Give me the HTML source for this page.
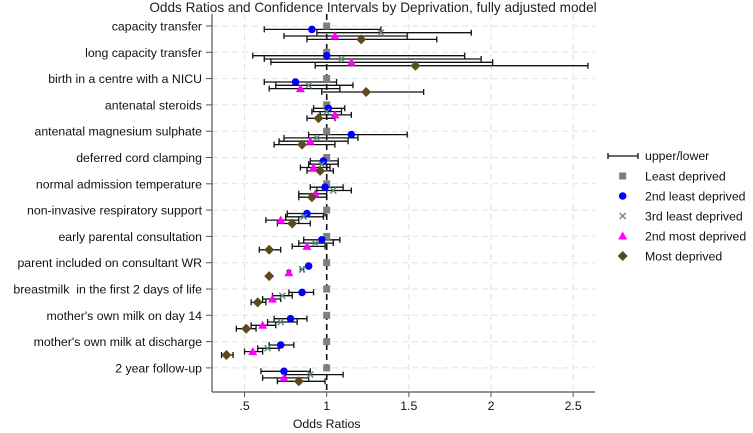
<!DOCTYPE html>
<html><head><meta charset="utf-8"><style>
html,body{margin:0;padding:0;background:#fff;}
svg{display:block;font-family:"Liberation Sans",Arial,sans-serif;}
text{white-space:pre;}
</style></head><body>
<svg id="chart" width="753" height="433" viewBox="0 0 753 433"></svg>
<script>
const categories=["capacity transfer","long capacity transfer","birth in a centre with a NICU","antenatal steroids","antenatal magnesium sulphate","deferred cord clamping","normal admission temperature","non-invasive respiratory support","early parental consultation","parent included on consultant WR","breastmilk  in the first 2 days of life","mother's own milk on day 14","mother's own milk at discharge","2 year follow-up"];
const seriesNames=["Least deprived","2nd least deprived","3rd least deprived","2nd most deprived","Most deprived"];
const leastOR=[1,1,1,1,1,1,1,1,1,1,1,1,1,1];
const second_leastOR=[0.91,1.00,0.81,1.01,1.15,0.98,0.99,0.88,0.97,0.89,0.85,0.78,0.72,0.74];
const second_leastLo=[0.62,0.55,0.62,0.92,0.89,0.90,0.90,0.76,0.86,0.885,0.77,0.68,0.65,0.60];
const second_leastHi=[1.33,1.84,1.06,1.11,1.49,1.07,1.10,0.99,1.08,0.895,0.92,0.88,0.80,0.90];
const third_leastOR=[1.33,1.09,0.89,1.00,0.94,0.97,1.04,0.86,0.93,0.85,0.73,0.72,0.64,0.90];
const third_leastLo=[0.94,0.62,0.69,0.91,0.74,0.89,0.94,0.75,0.83,0.84,0.67,0.64,0.58,0.75];
const third_leastHi=[1.88,1.94,1.16,1.09,1.19,1.07,1.15,0.98,1.04,0.86,0.79,0.82,0.71,1.10];
const second_mostOR=[1.05,1.15,0.84,1.05,0.90,0.92,0.93,0.72,0.88,0.77,0.67,0.61,0.55,0.74];
const second_mostLo=[0.74,0.66,0.65,0.96,0.71,0.84,0.83,0.63,0.79,0.76,0.61,0.54,0.50,0.61];
const second_mostHi=[1.49,2.01,1.08,1.15,1.13,1.02,1.00,0.83,0.99,0.78,0.72,0.69,0.61,0.89];
const mostOR=[1.21,1.54,1.24,0.95,0.85,0.96,0.91,0.79,0.65,0.65,0.58,0.51,0.39,0.83];
const mostLo=[0.88,0.93,0.97,0.88,0.68,0.88,0.83,0.70,0.59,0.645,0.54,0.45,0.36,0.70];
const mostHi=[1.67,2.59,1.59,1.05,1.05,1.04,1.00,0.90,0.72,0.655,0.63,0.57,0.43,0.99];
const xTicks=[0.5,1,1.5,2,2.5];
const xTickLabels=[".5","1","1.5","2","2.5"];

const NS="http://www.w3.org/2000/svg";
const svg=document.getElementById('chart');
const X0=212,X1=595,Y1=392;
function xs(v){return 326.7+(v-1)*164.3;}
function ys(i){return 26+i*26.3;}
function mk(tag,attrs,parent){const e=document.createElementNS(NS,tag);for(const k in attrs)e.setAttribute(k,attrs[k]);(parent||svg).appendChild(e);return e;}

let t=mk('text',{x:373,y:12,'text-anchor':'middle','font-size':13.6,fill:'#222'});
t.textContent="Odds Ratios and Confidence Intervals by Deprivation, fully adjusted model";



const grid=mk('g',{});


categories.forEach((c,i)=>{mk('line',{x1:X0,x2:X1,y1:ys(i),y2:ys(i),stroke:'#e2e2e2','stroke-width':1,'stroke-dasharray':'6,4'},grid);});
xTicks.forEach(v=>{if(v!==1)mk('line',{x1:xs(v),x2:xs(v),y1:14,y2:Y1,stroke:'#e2e2e2','stroke-width':1,'stroke-dasharray':'6,4'},grid);});

const ax=mk('g',{});


mk('line',{x1:X0,x2:X0,y1:14,y2:Y1,stroke:'#555','stroke-width':1.2},ax);
mk('line',{x1:X0,x2:X1,y1:Y1,y2:Y1,stroke:'#555','stroke-width':1.2},ax);
categories.forEach((c,i)=>{
  mk('line',{x1:X0-6,x2:X0,y1:ys(i),y2:ys(i),stroke:'#555'},ax);
  const l=mk('text',{x:202,y:ys(i)+4.5,'text-anchor':'end','font-size':12.3,fill:'#111'});
  l.setAttributeNS('http://www.w3.org/XML/1998/namespace','xml:space','preserve');
  l.textContent=c;
  
  
});
xTicks.forEach((v,i)=>{
  mk('line',{x1:xs(v),x2:xs(v),y1:Y1,y2:Y1+5,stroke:'#555'},ax);
  const l=mk('text',{x:xs(v),y:410,'text-anchor':'middle','font-size':12.3,fill:'#111'});
  l.textContent=xTickLabels[i];
  
  
});
const xt=mk('text',{x:xs(1),y:428,'text-anchor':'middle','font-size':12.3,fill:'#111'});
xt.textContent="Odds Ratios";



const ref=mk('line',{x1:xs(1),x2:xs(1),y1:14,y2:Y1,stroke:'#111','stroke-width':1.6,'stroke-dasharray':'6,4'});



const offs=[0,3.4,6.7,10,13.4];
const ors=[leastOR,second_leastOR,third_leastOR,second_mostOR,mostOR];
const los=[null,second_leastLo,third_leastLo,second_mostLo,mostLo];
const his=[null,second_leastHi,third_leastHi,second_mostHi,mostHi];
const colors=['#7f7f7f','#0000ff','#5f8a7f','#ff00ff','#5c4a1f'];

function marker(s,x,y,parent){
  let e;
  if(s===0)e=mk('rect',{x:x-3.5,y:y-3.5,width:7,height:7,fill:colors[0]},parent);
  else if(s===1)e=mk('circle',{cx:x,cy:y,r:3.8,fill:colors[1]},parent);
  else if(s===2){e=mk('path',{d:`M${x-3},${y-3}L${x+3},${y+3}M${x-3},${y+3}L${x+3},${y-3}`,stroke:colors[2],'stroke-width':1.4,fill:'none'},parent);}
  else if(s===3)e=mk('path',{d:`M${x},${y-4.5}L${x+4.5},${y+3.5}L${x-4.5},${y+3.5}Z`,fill:colors[3]},parent);
  else e=mk('path',{d:`M${x},${y-5}L${x+5},${y}L${x},${y+5}L${x-5},${y}Z`,fill:colors[4]},parent);
  return e;
}

const ciG=mk('g',{});


for(let s=1;s<5;s++){
  categories.forEach((c,i)=>{
    const y=ys(i)+offs[s],a=xs(los[s][i]),b=xs(his[s][i]);
    const p=mk('path',{d:`M${a},${y}H${b}M${a},${y-3}V${y+3}M${b},${y-3}V${y+3}`,stroke:'#111','stroke-width':1.3,fill:'none'},ciG);
    
    
  });
}
for(let s=0;s<5;s++){
  const g=mk('g',{});
  
  
  categories.forEach((c,i)=>{
    const m=marker(s,xs(ors[s][i]),ys(i)+offs[s],g);
    
    
  });
}

const lg=mk('g',{});


mk('path',{d:'M608,156H638M608,153V159M638,153V159',stroke:'#111','stroke-width':1.3,fill:'none'},lg);
let lt=mk('text',{x:645,y:160,'font-size':12.3,fill:'#111'},lg);
lt.textContent="upper/lower";


seriesNames.forEach((n,s)=>{
  const y=176+s*20;
  marker(s,622.7,y,lg);
  const e=mk('text',{x:645,y:y+4.5,'font-size':12.3,fill:'#111'},lg);
  e.textContent=n;
  
  
});
</script>
</body></html>
